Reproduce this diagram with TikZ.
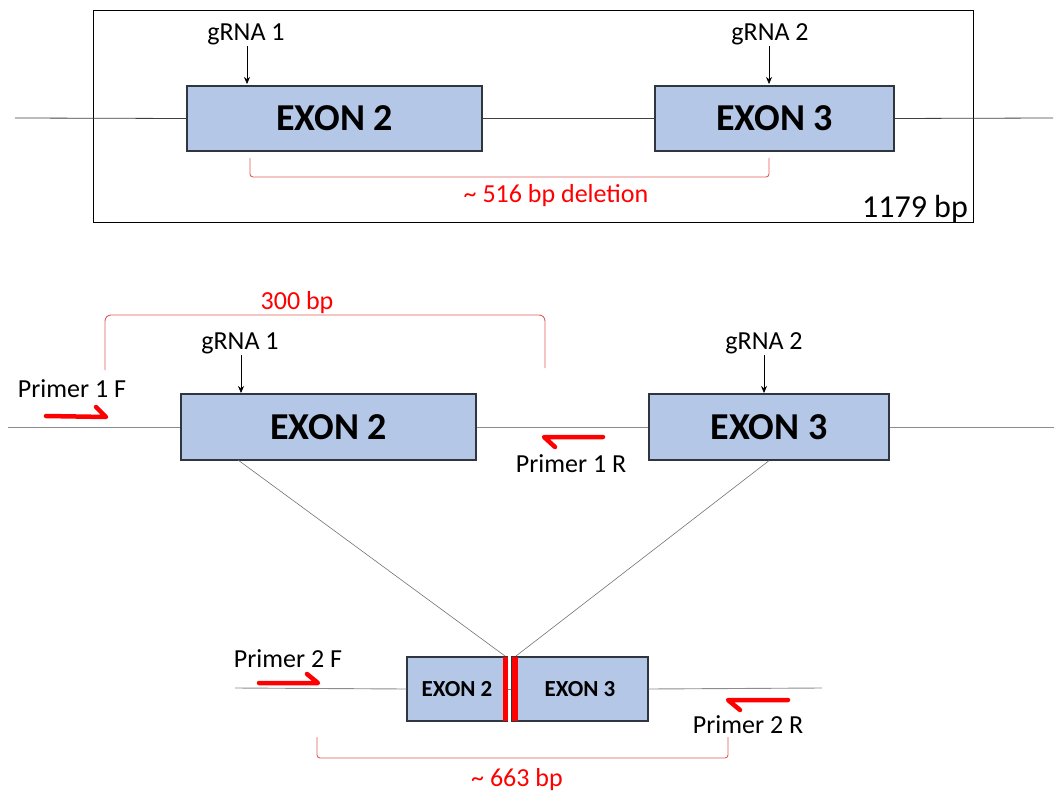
\documentclass[tikz,border=0pt]{standalone}
\usepackage{fontspec}
\setmainfont{Carlito}
\usetikzlibrary{arrows.meta}
\definecolor{exonfill}{HTML}{B4C7E7}
\definecolor{exonline}{HTML}{2F3640}
\definecolor{brk}{HTML}{E05A5A}
\begin{document}
\begin{tikzpicture}[x=1pt,y=-1pt,
  exon/.style={draw=exonline,line width=1.3pt,fill=exonfill,inner sep=0pt,
    minimum height=65pt,font=\fontsize{38}{40}\selectfont\bfseries},
  smallexon/.style={exon,minimum height=64pt,font=\fontsize{23}{25}\selectfont\bfseries},
  dna/.style={draw=black!75,line width=0.8pt},
  dnalight/.style={draw=black!45,line width=0.9pt},
  cutline/.style={draw=black!55,line width=0.6pt},
  guide/.style={draw=black,line width=0.6pt,-{Stealth[length=7pt,width=6pt]}},
  bracketline/.style={draw=brk,line width=0.9pt,rounded corners=3pt},
  primer/.style={draw=red,line width=4.5pt,line cap=round,line join=round},
  lbl/.style={inner sep=0pt,anchor=base,font=\fontsize{26}{28}\selectfont},
  redlbl/.style={lbl,text=red}]
\useasboundingbox (0,0) rectangle (1054,794);

% ---------- wild-type locus ----------
\node[draw=black,line width=0.9pt,minimum width=880pt,minimum height=212pt,inner sep=0pt] (frame) at (533,116) {};
\coordinate (tL) at (15,118);
\coordinate (tR) at (1053,118);
\node[exon,minimum width=295pt] (te2) at (334.5,118.5) {EXON 2};
\node[exon,minimum width=239pt] (te3) at (774.5,118.5) {EXON 3};
\draw[dna] (tL) -- (te2.west);
\draw[dna] (te2.east) -- (te3.west);
\draw[dna] (te3.east) -- (tR);

\node[lbl] (tg1) at (246,41) {gRNA 1};
\node[lbl] (tg2) at (770,41) {gRNA 2};
\draw[guide] (247,46) -- (247,84);
\draw[guide] (769,46) -- (769,84);

\draw[bracketline] (250,158) -- (250,177) -- (769,177) -- (769,158);
\node[redlbl] (del) at (556,203) {\textasciitilde\ 516 bp deletion};
\node[lbl,anchor=base east,font=\fontsize{32}{34}\selectfont] (len) at (968,218) {1179 bp};

% ---------- locus with primers ----------
\coordinate (bL) at (8,427);
\coordinate (bR) at (1054,427);
\node[exon,minimum width=295pt,minimum height=66pt] (be2) at (328.5,427) {EXON 2};
\node[exon,minimum width=240pt,minimum height=66pt] (be3) at (769,427) {EXON 3};
\draw[dnalight] (bL) -- (be2.west);
\draw[dnalight] (be2.east) -- (be3.west);
\draw[dnalight] (be3.east) -- (bR);

\node[lbl] (bg1) at (240,349) {gRNA 1};
\node[lbl] (bg2) at (764,349) {gRNA 2};
\draw[guide] (241,355) -- (241,393);
\draw[guide] (764,355) -- (764,393);

\draw[bracketline,rounded corners=6pt] (105,370) -- (105,315) -- (545,315) -- (545,368);
\node[redlbl] (amp1) at (297,309) {300 bp};

\node[lbl] (p1f) at (72,397) {Primer 1 F};
\draw[primer] (46,416) -- (106,417) -- (96,407);
\node[lbl] (p1r) at (571,472) {Primer 1 R};
\draw[primer] (603,437) -- (544,437) -- (555,447);

% ---------- deletion allele ----------
\coordinate (dL) at (235,688);
\coordinate (dR) at (822,688);
\node[smallexon,minimum width=100pt] (de2) at (457,689) {EXON 2};
\node[smallexon,minimum width=136pt] (de3) at (580,689) {EXON 3};
\draw[dnalight] (dL) -- (de2.west);
\draw[dnalight] (de2.east) -- (de3.west);
\draw[dnalight] (de3.east) -- (dR);
\fill[red] (503,657) rectangle (507.5,721);
\fill[red] (512,657) rectangle (518,721);

\coordinate (c2) at (238,460);
\coordinate (j2) at (505,656);
\coordinate (j3) at (516,656);
\draw[cutline] (c2) -- (j2);
\draw[cutline] (be3.south) -- (j3);

\node[lbl] (p2f) at (288,667) {Primer 2 F};
\draw[primer] (259,683) -- (318,683) -- (307,674);
\node[lbl] (p2r) at (748,733) {Primer 2 R};
\draw[primer] (788,700) -- (728,700) -- (740,710);

\draw[bracketline] (317,737) -- (317,758) -- (728,758) -- (728,737);
\node[redlbl] (amp2) at (517,786) {\textasciitilde\ 663 bp};
\end{tikzpicture}
\end{document}
